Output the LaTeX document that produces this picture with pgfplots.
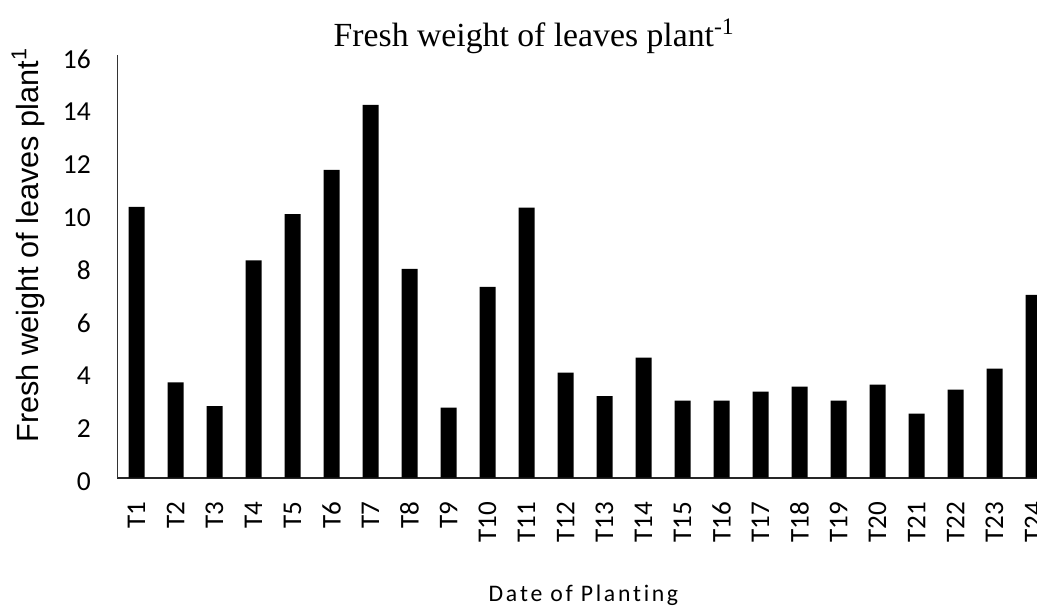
\documentclass[border=0pt]{standalone}
\usepackage{fontspec}
\setmainfont{Liberation Serif}
\newfontfamily\xfont[Ligatures=NoCommon]{Carlito}
\newfontfamily\ylabfont{Liberation Sans}
\usepackage{pgfplots}
\pgfplotsset{compat=1.18}
\begin{document}
\begin{tikzpicture}
\useasboundingbox (0,0) rectangle (777.75pt,455.25pt);
\begin{axis}[
  at={(87.75pt,97.125pt)}, anchor=south west,
  scale only axis,
  width=690pt, height=316.9pt,
  xmin=0.5, xmax=24.09, ymin=0, ymax=16,
  axis x line=bottom, axis y line=left,
  axis line style={-},
  x axis line style={line width=1.5pt, color=black!85},
  y axis line style={line width=0.75pt, color=black!80},
  major tick length=0pt,
  ytick={0,2,...,16},
  xtick={1,...,24},
  xticklabels={T1,T2,T3,T4,T5,T6,T7,T8,T9,T10,T11,T12,T13,T14,T15,T16,T17,T18,T19,T20,T21,T22,T23,T24},
  xticklabel style={rotate=90, anchor=east, inner sep=0pt, font=\xfont\fontsize{20.3}{22}\selectfont},
  xticklabel shift=18.2pt,
  yticklabel style={inner sep=0pt, yshift=-3pt, font=\xfont\fontsize{20.6}{22}\selectfont},
  yticklabel shift=19.5pt,
  /pgf/number format/assume math mode=true,
  clip=true,
]
\addplot[ybar, bar width=12pt, fill=black, draw=none] coordinates {
(1,10.25) (2,3.6) (3,2.7) (4,8.22) (5,9.97) (6,11.65) (7,14.11) (8,7.90)
(9,2.65) (10,7.22) (11,10.22) (12,3.97) (13,3.08) (14,4.54) (15,2.91) (16,2.91)
(17,3.25) (18,3.44) (19,2.91) (20,3.52) (21,2.42) (22,3.33) (23,4.12) (24,6.92)
};
\end{axis}
\node[anchor=base, inner sep=0pt, font=\fontsize{25.3}{28}\selectfont] at (400.5pt,420.2pt) {Fresh weight of leaves plant\textsuperscript{-1}};
\node[anchor=base west, rotate=90, inner sep=0pt, font=\ylabfont\fontsize{23}{25}\selectfont] at (28.9pt,123pt) {Fresh weight of leaves plant\textsuperscript{1}};
\node[anchor=base, inner sep=0pt, font=\xfont\fontsize{17.8}{20}\selectfont] at (437.6pt,4pt) {D\kern2pt a\kern2pt t\kern2pt e\kern2pt\ o\kern2pt f\kern2pt\ P\kern2pt l\kern2pt a\kern2pt n\kern2pt t\kern2pt i\kern2pt n\kern2pt g};
\end{tikzpicture}
\end{document}
